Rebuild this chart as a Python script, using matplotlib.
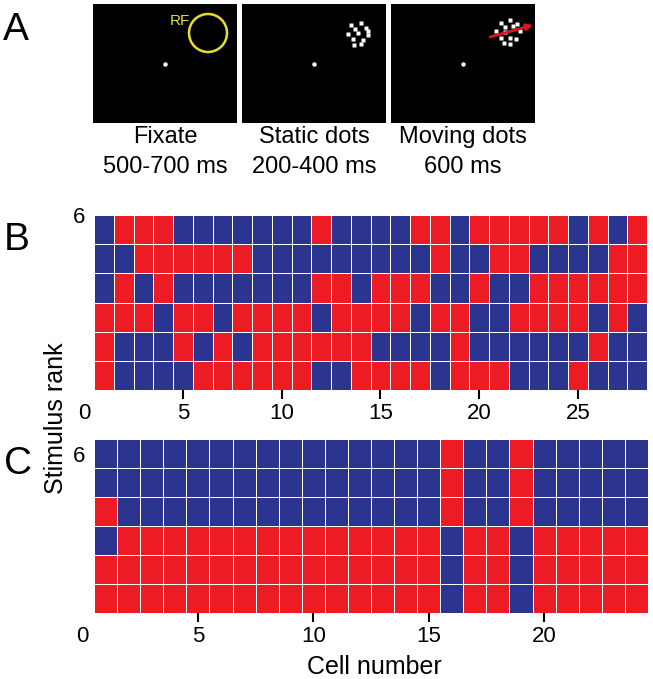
import matplotlib
matplotlib.use("Agg")
import matplotlib.pyplot as plt
import numpy as np
from matplotlib.colors import ListedColormap

plt.rcParams['font.family'] = ['Liberation Sans', 'DejaVu Sans']

# ---------------- data ----------------
# Panel B: 28 cells, rows listed from rank 6 (top) down to rank 1 (bottom); R = red, B = blue
panel_b_rows = [
    "BRRRBBBBBBBRBB" + "BBRRBRRRRRBRBR",
    "BBRRRRRRBBBBBB" + "BBBRBBRRBBBBRR",
    "BRBRBBBBBBBRRB" + "RRRBBRBBRRRRRR",
    "RRRBRRBRRRRBRR" + "RRBRRBBRRRRBRB",
    "RBBBRBRBRRRRRR" + "BBBBRBBBBBBRBB",
    "RBBBBRRRRRRBBR" + "RRRBRRRBBBRBBB",
]
# Panel C: 24 cells
panel_c_rows = [
    "BBBBBBBBBBBBBBBRBBRBBBBB",
    "BBBBBBBBBBBBBBBRBBRBBBBB",
    "RBBBBBBBBBBBBBBRBBRBBBBB",
    "BRRRRRRRRRRRRRRBRRBRRRRR",
    "RRRRRRRRRRRRRRRBRRBRRRRR",
    "RRRRRRRRRRRRRRRBRRBRRRRR",
]
b_xticks = [0, 5, 10, 15, 20, 25]
c_xticks = [0, 5, 10, 15, 20]
rank_tick_label = "6"

a_titles = ["Fixate", "Static dots", "Moving dots"]
a_durations = ["500-700 ms", "200-400 ms", "600 ms"]
# dot offsets (px) relative to the cluster centre
static_dx = [-7.5, 2.5, -2.9, 7.5, -10, 0, 10, -5, 5, -4.2, 2.5, 9.5]
static_dy = [-9.4, -10.7, -5, -6, 0, -0.7, 0.7, 4.7, 5.7, 11.4, 10, -3]
moving_dx = [-6.7, 2.3, 9, -3.3, 5, -11.7, -3.3, 11.7, -6.7, 2.3, 8.3, -4.3, 2.3]
moving_dy = [-9, -11.7, -8.3, -5, -5.7, -0.7, 0.3, -0.7, 6, 6, 7, 11, 11.7]

RED = '#ED1C24'
BLUE = '#2B3590'

W, H = 653, 679
fig = plt.figure(figsize=(W / 100, H / 100), dpi=100)


def fx(x):
    return x / W


def fy(y):
    return 1 - y / H


# ---------------- panel A ----------------
sq_left = [93, 242, 391]
sq_w, sq_top, sq_h = 144, 4, 119
for i, xl in enumerate(sq_left):
    ax = fig.add_axes([fx(xl), fy(sq_top + sq_h), sq_w / W, sq_h / H])
    ax.set_facecolor('black')
    ax.set_xlim(0, sq_w)
    ax.set_ylim(sq_h, 0)
    ax.set_xticks([])
    ax.set_yticks([])
    for s in ax.spines.values():
        s.set_visible(False)
    # fixation point
    ax.plot([72], [60], 'o', color='white', ms=3.2, mec='none')
    if i == 0:
        circ = plt.Circle((115, 29), 19, fill=False, ec='#E8DC2E', lw=1.8)
        ax.add_patch(circ)
        ax.text(77, 21, "RF", color='#E8DC2E', fontsize=11, ha='left', va='baseline')
    elif i == 1:
        cx, cy = 116, 30
        ax.plot(cx + np.array(static_dx), cy + np.array(static_dy), 's',
                color='white', ms=2.8, mec='none')
    else:
        cx, cy = 117, 28
        ax.plot(cx + np.array(moving_dx), cy + np.array(moving_dy), 's',
                color='white', ms=2.8, mec='none')
        ax.annotate("", xy=(142, 21), xytext=(99, 33),
                    arrowprops=dict(arrowstyle='-|>', color='#E0141C', lw=2.0,
                                    mutation_scale=9, shrinkA=0, shrinkB=0),
                    annotation_clip=False)
    cxf = fx(xl + sq_w / 2)
    fig.text(cxf, fy(143), a_titles[i], ha='center', va='baseline', fontsize=17)
    fig.text(cxf, fy(173), a_durations[i], ha='center', va='baseline', fontsize=17)

# ---------------- heatmap panels ----------------
cmap = ListedColormap([BLUE, RED])


def heat(ax, rows, xticks, ytick):
    n = len(rows[0])
    mat = np.array([[1 if ch == 'R' else 0 for ch in r] for r in rows[::-1]])
    xe = np.arange(n + 1) + 0.5
    ye = np.arange(len(rows) + 1)
    ax.pcolormesh(xe, ye, mat, cmap=cmap, vmin=0, vmax=1,
                  edgecolors='white', linewidth=0.45)
    ax.set_xlim(0.5, n + 0.5)
    ax.set_ylim(0, len(rows))
    for s in ax.spines.values():
        s.set_visible(False)
    ticks = [t for t in xticks if t >= 1]
    ax.set_xticks(ticks)
    ax.set_xticklabels([str(t) for t in ticks], fontsize=16)
    ax.tick_params(axis='x', length=6.5, width=1.5, pad=3, direction='out')
    # the "0" label sits just outside the grid, without a tick mark
    ax.annotate("0", xy=(0, 0), xycoords=('data', 'axes fraction'),
                xytext=(0, -(6.5 + 3)), textcoords='offset points',
                ha='center', va='top', fontsize=16, annotation_clip=False)
    ax.set_yticks([ytick])
    ax.set_yticklabels([rank_tick_label], fontsize=16)
    ax.tick_params(axis='y', length=0, pad=6.5)


axB = fig.add_axes([fx(94), fy(390), 553 / W, 175 / H])
heat(axB, panel_b_rows, b_xticks, 6)

axC = fig.add_axes([fx(94), fy(613), 554 / W, 174 / H])
heat(axC, panel_c_rows, c_xticks, 5.5)

# ---------------- labels ----------------
fig.text(fx(56), fy(418), "Stimulus rank", rotation=90, ha='center', va='center', fontsize=18)
fig.text(fx(374), fy(674), "Cell number", ha='center', va='baseline', fontsize=18)

fig.text(fx(3), fy(40), "A", fontsize=28, ha='left', va='baseline')
fig.text(fx(4), fy(250), "B", fontsize=28, ha='left', va='baseline')
fig.text(fx(4), fy(474), "C", fontsize=28, ha='left', va='baseline')

fig.savefig("out.png", dpi=100)
